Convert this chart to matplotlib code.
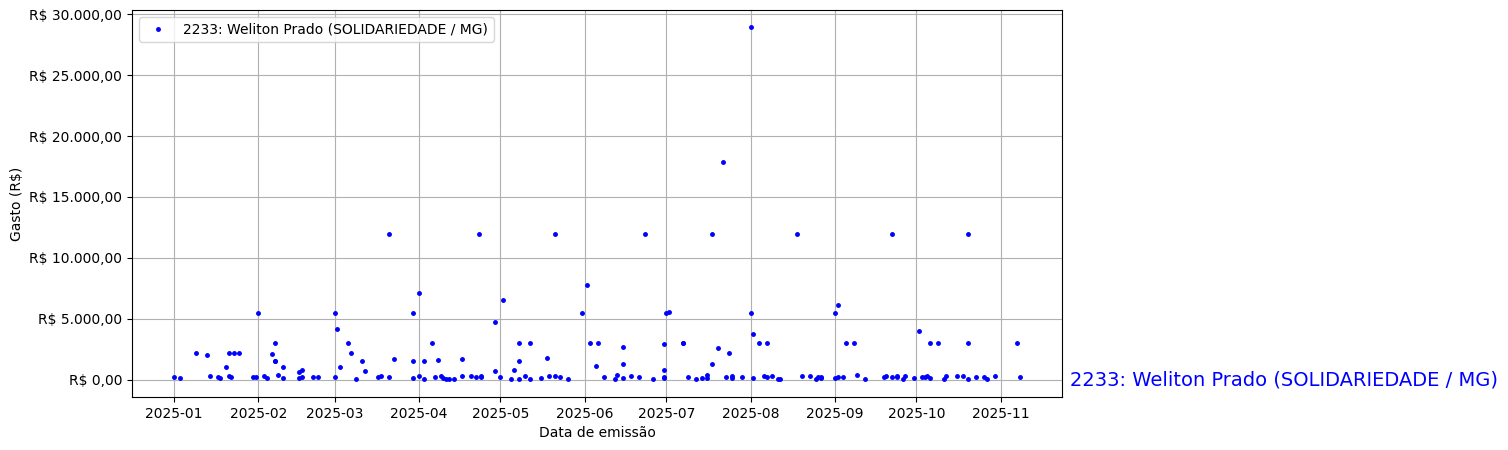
import numpy as np
import pandas as pd
import matplotlib
matplotlib.use("Agg")
import matplotlib.pyplot as plt
import matplotlib.transforms as mtransforms
from matplotlib.ticker import FuncFormatter

label = "2233: Weliton Prado (SOLIDARIEDADE / MG)"

# data de emissao e valor de cada despesa
datas = [
    "2025-01-01", "2025-01-03", "2025-01-09", "2025-01-13", "2025-01-14", "2025-01-17",
    "2025-01-18", "2025-01-20", "2025-01-21", "2025-01-21", "2025-01-22", "2025-01-23",
    "2025-01-25", "2025-01-30", "2025-01-31",
    "2025-02-01", "2025-02-03", "2025-02-04", "2025-02-06", "2025-02-07", "2025-02-07",
    "2025-02-07", "2025-02-08", "2025-02-10", "2025-02-10", "2025-02-16", "2025-02-16",
    "2025-02-17", "2025-02-17", "2025-02-21", "2025-02-23",
    "2025-03-01", "2025-03-01", "2025-03-02", "2025-03-03", "2025-03-06", "2025-03-07",
    "2025-03-09", "2025-03-11", "2025-03-12", "2025-03-17", "2025-03-18", "2025-03-21",
    "2025-03-21", "2025-03-23", "2025-03-30", "2025-03-30", "2025-03-30",
    "2025-04-01", "2025-04-01", "2025-04-03", "2025-04-03", "2025-04-06", "2025-04-07",
    "2025-04-08", "2025-04-09", "2025-04-10", "2025-04-11", "2025-04-12", "2025-04-14",
    "2025-04-17", "2025-04-17", "2025-04-20", "2025-04-23", "2025-04-22", "2025-04-24",
    "2025-04-24", "2025-04-29", "2025-04-29",
    "2025-05-01", "2025-05-02", "2025-05-05", "2025-05-06", "2025-05-08", "2025-05-08",
    "2025-05-08", "2025-05-10", "2025-05-12", "2025-05-12", "2025-05-16", "2025-05-18",
    "2025-05-19", "2025-05-21", "2025-05-21", "2025-05-23", "2025-05-26", "2025-05-31",
    "2025-06-02", "2025-06-03", "2025-06-05", "2025-06-06", "2025-06-08", "2025-06-12",
    "2025-06-13", "2025-06-15", "2025-06-15", "2025-06-15", "2025-06-18", "2025-06-21",
    "2025-06-23", "2025-06-26", "2025-06-30", "2025-06-30", "2025-06-30", "2025-06-30",
    "2025-07-01", "2025-07-02", "2025-07-07", "2025-07-07", "2025-07-09", "2025-07-12",
    "2025-07-14", "2025-07-16", "2025-07-16", "2025-07-18", "2025-07-18", "2025-07-20",
    "2025-07-22", "2025-07-23", "2025-07-24", "2025-07-25", "2025-07-25", "2025-07-29",
    "2025-08-01", "2025-08-01", "2025-08-02", "2025-08-02", "2025-08-04", "2025-08-06",
    "2025-08-07", "2025-08-07", "2025-08-09", "2025-08-11", "2025-08-12", "2025-08-18",
    "2025-08-20", "2025-08-23", "2025-08-25", "2025-08-26", "2025-08-27", "2025-08-27",
    "2025-09-01", "2025-09-01", "2025-09-02", "2025-09-02", "2025-09-04", "2025-09-05",
    "2025-09-08", "2025-09-09", "2025-09-12", "2025-09-19", "2025-09-20", "2025-09-22",
    "2025-09-22", "2025-09-24", "2025-09-24", "2025-09-26", "2025-09-27", "2025-09-30",
    "2025-10-02", "2025-10-03", "2025-10-04", "2025-10-05", "2025-10-06", "2025-10-06",
    "2025-10-09", "2025-10-11", "2025-10-12", "2025-10-16", "2025-10-18", "2025-10-20",
    "2025-10-20", "2025-10-20", "2025-10-23", "2025-10-26", "2025-10-27", "2025-10-30",
    "2025-11-07", "2025-11-08",
]

valores = [
    220, 140, 2190, 2030, 300, 220,
    140, 1040, 300, 2190, 220, 2190,
    2190, 220, 220,
    5480, 300, 140, 2110, 3010, 1540,
    1540, 390, 1040, 140, 630, 140,
    800, 220, 220, 220,
    5480, 220, 4170, 1040, 3010, 2190,
    50, 1540, 720, 220, 300, 12000,
    220, 1700, 1540, 5480, 140,
    300, 7130, 1540, 60, 3010, 220,
    1620, 300, 140, 60, 60, 60,
    1700, 300, 300, 12000, 220, 300,
    220, 4740, 720,
    220, 6550, 60, 800, 3010, 1540,
    60, 300, 3010, 60, 140, 1780,
    300, 300, 12000, 220, 60, 5480,
    7750, 3010, 1130, 3010, 220, 60,
    390, 2690, 1290, 140, 300, 220,
    12000, 60, 220, 140, 800, 2930,
    5480, 5560, 3010, 3010, 220, 60,
    140, 390, 140, 1290, 12000, 2600,
    17900, 220, 2190, 300, 140, 220,
    5480, 28900, 3760, 140, 3010, 300,
    3010, 220, 300, 60, 60, 12000,
    300, 300, 60, 220, 220, 140,
    5480, 140, 6140, 220, 220, 3010,
    3010, 390, 60, 220, 300, 220,
    12000, 300, 220, 60, 300, 140,
    4000, 220, 220, 300, 140, 3010,
    3010, 60, 300, 300, 300, 3010,
    12000, 60, 220, 220, 60, 300,
    3010, 220,
]

datas = pd.to_datetime(datas)


def reais(v, pos):
    s = f"{v:,.2f}".replace(",", "X").replace(".", ",").replace("X", ".")
    return "R$ " + s


fig, ax = plt.subplots(figsize=(15.08, 4.5), dpi=100)
fig.subplots_adjust(left=0.0875, right=0.7042, top=0.978, bottom=0.118)

ax.plot(datas, valores, "b.", ms=5, label=label)

ax.yaxis.set_major_formatter(FuncFormatter(reais))
ax.set_xlabel("Data de emissão")
ax.set_ylabel("Gasto (R$)")
ax.grid(True)
ax.legend(loc="upper left")

trans = mtransforms.blended_transform_factory(ax.transAxes, ax.transData)
ax.text(1.009, 0, label, transform=trans, color="blue", fontsize=14,
        va="center", ha="left", clip_on=False)

plt.savefig("out.png", dpi=100)
